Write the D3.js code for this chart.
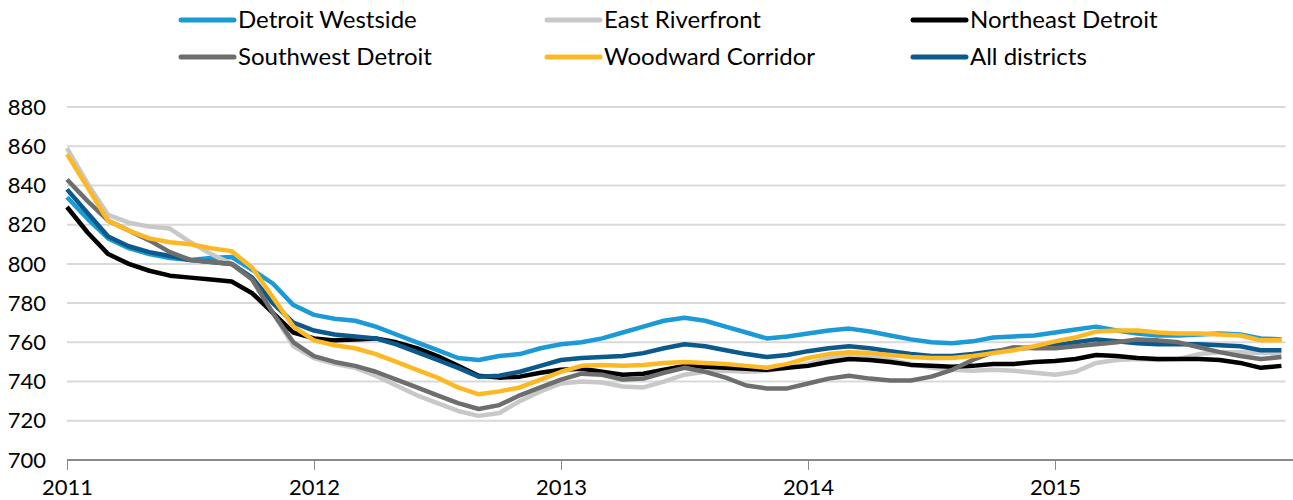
<!DOCTYPE html>
<html>
<head>
<meta charset="utf-8">
<script src="https://cdn.jsdelivr.net/npm/d3@7"></script>
<style>
  body { margin: 0; background: #fff; }
  svg text { font-family: Lato, "Open Sans", sans-serif; fill: #000; }
</style>
</head>
<body>
<div id="chart"></div>
<script>
// monthly values, Jan 2011 .. Dec 2015
const years = [2011, 2012, 2013, 2014, 2015];
const yTicks = [700, 720, 740, 760, 780, 800, 820, 840, 860, 880];

const seriesNames = ['Detroit Westside', 'East Riverfront', 'Northeast Detroit',
                     'Southwest Detroit', 'Woodward Corridor', 'All districts'];

const westside = [834, 823, 813, 808, 805, 803, 802, 803, 803.5, 797, 790, 779,
  774, 772, 771, 768, 764, 760, 756, 752, 751, 753, 754, 757,
  759, 760, 762, 765, 768, 771, 772.5, 771, 768, 765, 762, 763,
  764.5, 766, 767, 765.5, 763.5, 761.5, 760, 759.5, 760.5, 762.5, 763, 763.5,
  765, 766.5, 768, 766, 764.5, 763.5, 763.5, 764, 764.5, 764, 762, 761.5];

const riverfront = [859, 841, 825, 821, 819, 818, 811, 805, 800, 792, 775, 758,
  752, 749, 747, 743, 738, 733, 729, 725, 722.5, 724, 730, 735,
  739, 740, 739.5, 737.5, 737, 740, 743.5, 745, 745.5, 745, 745.5, 747,
  749, 752, 754, 753, 751, 749, 747, 746, 745.5, 746, 745.5, 744.5,
  743.5, 745, 749.5, 751, 751.5, 751, 751.5, 754, 755, 755, 754.5, 754.5];

const northeast = [829, 816, 805, 800, 796.5, 794, 793, 792, 791, 785, 775, 765,
  762, 761, 761.5, 762, 760, 757, 753, 748, 743, 742, 742.5, 744.5,
  746, 746.5, 745, 743.5, 744, 746, 748, 747.5, 747, 746.5, 746, 747,
  748, 750, 751.5, 751, 750, 748.5, 748, 747.5, 748, 749, 749, 750,
  750.5, 751.5, 753.5, 753, 752, 751.5, 751.5, 751.5, 751, 749.5, 747, 748];

const southwest = [843, 832, 822, 817, 812, 806, 802, 801, 800, 792, 775, 760,
  753, 750, 748, 745, 741, 737, 733, 729, 726, 728, 733, 737,
  741, 744, 743.5, 741, 741.5, 744.5, 747, 745, 742, 738, 736.5, 736.5,
  739, 741.5, 743, 741.5, 740.5, 740.5, 742.5, 746, 751, 755, 757.5, 757,
  757, 758, 759, 760, 761.5, 761, 760, 757.5, 755, 753, 751.5, 752.5];

const woodward = [856, 839, 822, 817, 813, 811, 810, 808, 806.5, 798, 783, 768,
  761, 758.5, 757, 754, 750, 746, 742, 737, 733.5, 735, 737, 741,
  745, 748, 748.5, 748, 748.5, 749.5, 750, 749.5, 749, 748, 747, 749,
  752, 754, 755, 754.5, 753.5, 752.5, 752, 752, 753, 754.5, 756, 758,
  760.5, 762.5, 765.5, 766, 766, 765, 764.5, 764.5, 764, 763.5, 761, 761];

const allDistricts = [838, 826, 814, 809, 806, 804, 802, 801, 800, 793, 780, 770,
  766, 764, 763, 762, 759, 755, 751, 747, 742.5, 743, 745, 748,
  751, 752, 752.5, 753, 754.5, 757, 759, 758, 756, 754, 752.5, 753.5,
  755.5, 757, 758, 757, 755.5, 754, 753, 753, 754, 755.5, 756.5, 757.5,
  758.5, 760, 761.5, 760.5, 759.5, 759, 759, 759, 758.5, 758, 756, 756];

const colors = ['#1b9ad7', '#c8c8c8', '#000000', '#6e6e6e', '#fdb924', '#0b5a8b'];

const series = seriesNames.map((name, i) => ({
  name: name,
  color: colors[i],
  values: [westside, riverfront, northeast, southwest, woodward, allDistricts][i]
}));

// draw order: All districts under Southwest / Woodward
const drawOrder = [0, 1, 2, 5, 3, 4];

const w = 1293, h = 500;
const margin = {left: 67, top: 107, bottom: 40};

const svg = d3.select('#chart').append('svg')
  .attr('width', w)
  .attr('height', h);

const x = d3.scaleLinear()
  .domain([0, 60])
  .range([margin.left, margin.left + 247 * 5]);

const y = d3.scaleLinear()
  .domain([700, 880])
  .range([460, margin.top]);

// gridlines
svg.append('g')
  .selectAll('line')
  .data(yTicks.filter(d => d > 700))
  .enter()
  .append('line')
  .attr('x1', x(0))
  .attr('x2', x(59.2))
  .attr('y1', d => y(d))
  .attr('y2', d => y(d))
  .style('stroke', '#d9d9d9')
  .style('stroke-width', 2);

// y labels
svg.append('g')
  .selectAll('text')
  .data(yTicks)
  .enter()
  .append('text')
  .attr('x', 46)
  .attr('y', d => y(d))
  .attr('dy', '0.35em')
  .attr('text-anchor', 'end')
  .style('font-size', '22px')
  .text(d => d);

// x axis
const xAxis = d3.axisBottom(x)
  .tickValues(years.map((d, i) => i * 12))
  .tickFormat((d, i) => years[i])
  .tickSize(10)
  .tickSizeOuter(0);

const gx = svg.append('g')
  .attr('transform', 'translate(0,' + y(700) + ')')
  .call(xAxis);

gx.select('.domain')
  .attr('d', 'M' + x(0) + ',0H' + w)
  .style('stroke', '#898989')
  .style('stroke-width', 2);
gx.selectAll('.tick line')
  .style('stroke', '#898989')
  .style('stroke-width', 1);
gx.selectAll('.tick text')
  .attr('y', 19)
  .style('font-size', '22px')
  .style('font-family', 'Lato, sans-serif')
  .attr('fill', '#000');

// lines
const line = d3.line()
  .x((d, i) => x(i))
  .y(d => y(d));

svg.append('g')
  .selectAll('path')
  .data(drawOrder.map(i => series[i]))
  .enter()
  .append('path')
  .attr('d', d => line(d.values))
  .style('fill', 'none')
  .style('stroke', d => d.color)
  .style('stroke-width', 4.5)
  .style('stroke-linejoin', 'round');

// legend, 3 columns x 2 rows
const legend = svg.append('g');
const cell = legend.selectAll('g')
  .data(series)
  .enter()
  .append('g')
  .attr('transform', (d, i) => 'translate(' + (181 + (i % 3) * 366) + ',' + (20 + Math.floor(i / 3) * 37) + ')');

cell.append('line')
  .attr('x1', 0)
  .attr('x2', 53)
  .style('stroke', d => d.color)
  .style('stroke-width', 5)
  .style('stroke-linecap', 'round');

cell.append('text')
  .attr('x', 57)
  .attr('dy', '0.35em')
  .style('font-size', '24px')
  .text(d => d.name);
</script>
</body>
</html>
